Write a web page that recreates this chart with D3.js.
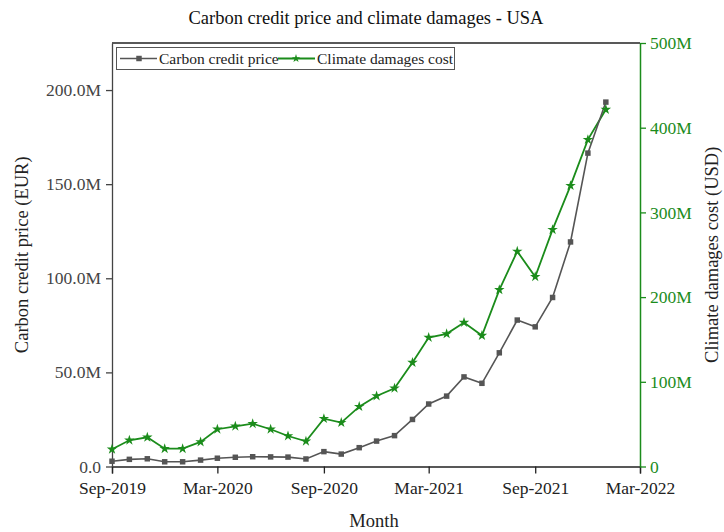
<!DOCTYPE html>
<html>
<head>
<meta charset="utf-8">
<script src="https://cdn.jsdelivr.net/npm/d3@7"></script>
<style>
  html, body { margin: 0; padding: 0; background: #fff; }
  svg { display: block; font-family: "Liberation Serif", "Times New Roman", serif; }
</style>
</head>
<body>
<svg id="chart" width="724" height="532"></svg>
<script>
// Monthly observations, Sep-2019 through Jan-2022
const months = [
  "2019-09","2019-10","2019-11","2019-12","2020-01","2020-02","2020-03","2020-04",
  "2020-05","2020-06","2020-07","2020-08","2020-09","2020-10","2020-11","2020-12",
  "2021-01","2021-02","2021-03","2021-04","2021-05","2021-06","2021-07","2021-08",
  "2021-09","2021-10","2021-11","2021-12","2022-01"
];
// Carbon credit price, million EUR
const carbonPrice = [
  2.8, 3.8, 4.1, 2.5, 2.5, 3.4, 4.4, 4.9, 5.2, 5.1, 5.0, 4.0, 7.9, 6.6, 10.0, 13.5,
  16.4, 25.0, 33.2, 37.4, 47.6, 44.2, 60.4, 77.8, 74.2, 89.8, 119.3, 166.5, 193.6
];
// Climate damages cost, million USD
const damagesCost = [
  20.3, 31.0, 34.5, 21.0, 21.0, 29.0, 44.0, 47.5, 50.5, 44.0, 36.0, 29.8, 56.5, 51.8,
  70.7, 83.3, 92.4, 122.7, 152.3, 156.6, 170.0, 154.6, 208.6, 254.0, 224.0, 279.6,
  331.6, 385.9, 421.4
];
const xTickDates = ["2019-09","2020-03","2020-09","2021-03","2021-09","2022-03"];
const leftTicks = [0, 50, 100, 150, 200];
const rightTicks = [0, 100, 200, 300, 400, 500];
const seriesNames = ["Carbon credit price", "Climate damages cost"];

const parseMonth = d3.timeParse("%Y-%m");
const GRAY = "#555555";
const GREEN = "#1b8c1b";

const svg = d3.select("#chart");
const m = { left: 112, right: 640, top: 43, bottom: 466.5 };

const x = d3.scaleTime()
  .domain([parseMonth("2019-09"), parseMonth("2022-03")])
  .range([m.left, m.right]);
const yL = d3.scaleLinear().domain([0, 225]).range([m.bottom, m.top]);
const yR = d3.scaleLinear().domain([0, 500]).range([m.bottom, m.top]);

// Title
svg.append("text")
  .attr("x", 366).attr("y", 24)
  .attr("text-anchor", "middle")
  .attr("font-size", 18.5)
  .attr("fill", "#111")
  .text("Carbon credit price and climate damages - USA");

// Frame top edge
svg.append("line")
  .attr("x1", m.left).attr("x2", m.right)
  .attr("y1", m.top).attr("y2", m.top)
  .attr("stroke", "#222").attr("stroke-width", 1.3);

// Bottom axis
const xAxis = d3.axisBottom(x)
  .tickValues(xTickDates.map(parseMonth))
  .tickFormat(d3.timeFormat("%b-%Y"))
  .tickSize(7).tickPadding(8);
const gx = svg.append("g").attr("transform", `translate(0,${m.bottom})`).call(xAxis);
gx.select(".domain").attr("stroke", "#222").attr("stroke-width", 1.3);
gx.selectAll(".tick line").attr("stroke", "#222").attr("stroke-width", 1.3);
gx.selectAll(".tick text")
  .attr("font-family", "Liberation Serif, serif")
  .attr("font-size", 17.5).attr("fill", "#222");

// Left axis
const yAxisL = d3.axisLeft(yL)
  .tickValues(leftTicks)
  .tickFormat(d => d === 0 ? "0.0" : d3.format(".1f")(d) + "M")
  .tickSize(6).tickPadding(5).tickSizeOuter(0);
const gl = svg.append("g").attr("transform", `translate(${m.left},0)`).call(yAxisL);
gl.select(".domain").attr("stroke", "#444").attr("stroke-width", 1.3);
gl.selectAll(".tick line").attr("stroke", "#444").attr("stroke-width", 1.3);
gl.selectAll(".tick text")
  .attr("font-family", "Liberation Serif, serif")
  .attr("font-size", 17.5).attr("fill", "#444");

// Right axis
const yAxisR = d3.axisRight(yR)
  .tickValues(rightTicks)
  .tickFormat(d => d === 0 ? "0" : d + "M")
  .tickSize(6).tickPadding(4).tickSizeOuter(0);
const gr = svg.append("g").attr("transform", `translate(${m.right},0)`).call(yAxisR);
gr.select(".domain").attr("stroke", GREEN).attr("stroke-width", 1.5);
gr.selectAll(".tick line").attr("stroke", GREEN).attr("stroke-width", 1.3);
gr.selectAll(".tick text")
  .attr("font-family", "Liberation Serif, serif")
  .attr("font-size", 17.5).attr("fill", GREEN);

// Axis titles
svg.append("text")
  .attr("x", 374).attr("y", 527)
  .attr("text-anchor", "middle").attr("font-size", 18.5).attr("fill", "#222")
  .text("Month");
svg.append("text")
  .attr("transform", `translate(28,${(m.top + m.bottom) / 2}) rotate(-90)`)
  .attr("text-anchor", "middle").attr("font-size", 18.5).attr("fill", "#222")
  .text("Carbon credit price (EUR)");
svg.append("text")
  .attr("transform", `translate(718,${(m.top + m.bottom) / 2}) rotate(-90)`)
  .attr("text-anchor", "middle").attr("font-size", 18.5).attr("fill", "#222")
  .text("Climate damages cost (USD)");

// Series
const dates = months.map(parseMonth);
const lineL = d3.line().x((d, i) => x(dates[i])).y(d => yL(d));
const lineR = d3.line().x((d, i) => x(dates[i])).y(d => yR(d));

svg.append("path").datum(damagesCost)
  .attr("d", lineR).attr("fill", "none")
  .attr("stroke", GREEN).attr("stroke-width", 1.8);
svg.append("path").datum(carbonPrice)
  .attr("d", lineL).attr("fill", "none")
  .attr("stroke", GRAY).attr("stroke-width", 1.6);

const star = d3.symbol().type(d3.symbolStar).size(34);
const square = d3.symbol().type(d3.symbolSquare).size(30);

svg.append("g").selectAll("path").data(carbonPrice).join("path")
  .attr("d", square)
  .attr("transform", (d, i) => `translate(${x(dates[i])},${yL(d)})`)
  .attr("fill", GRAY);
svg.append("g").selectAll("path").data(damagesCost).join("path")
  .attr("d", star)
  .attr("transform", (d, i) => `translate(${x(dates[i])},${yR(d)})`)
  .attr("fill", GREEN);

// Legend
const lg = svg.append("g");
lg.append("rect")
  .attr("x", 116.5).attr("y", 47.5).attr("width", 338).attr("height", 22)
  .attr("fill", "#fff").attr("stroke", "#555").attr("stroke-width", 1);
lg.append("line").attr("x1", 120).attr("x2", 157).attr("y1", 58.5).attr("y2", 58.5)
  .attr("stroke", GRAY).attr("stroke-width", 1.6);
lg.append("path").attr("d", square).attr("transform", "translate(139,58.5)").attr("fill", GRAY);
lg.append("text").attr("x", 159).attr("y", 64)
  .attr("font-size", 15.5).attr("fill", "#222").text(seriesNames[0]);
lg.append("line").attr("x1", 278).attr("x2", 315).attr("y1", 58.5).attr("y2", 58.5)
  .attr("stroke", GREEN).attr("stroke-width", 1.8);
lg.append("path").attr("d", d3.symbol().type(d3.symbolStar).size(22))
  .attr("transform", "translate(296,58.5)").attr("fill", GREEN);
lg.append("text").attr("x", 317).attr("y", 64)
  .attr("font-size", 15.5).attr("fill", "#222").text(seriesNames[1]);
</script>
</body>
</html>
